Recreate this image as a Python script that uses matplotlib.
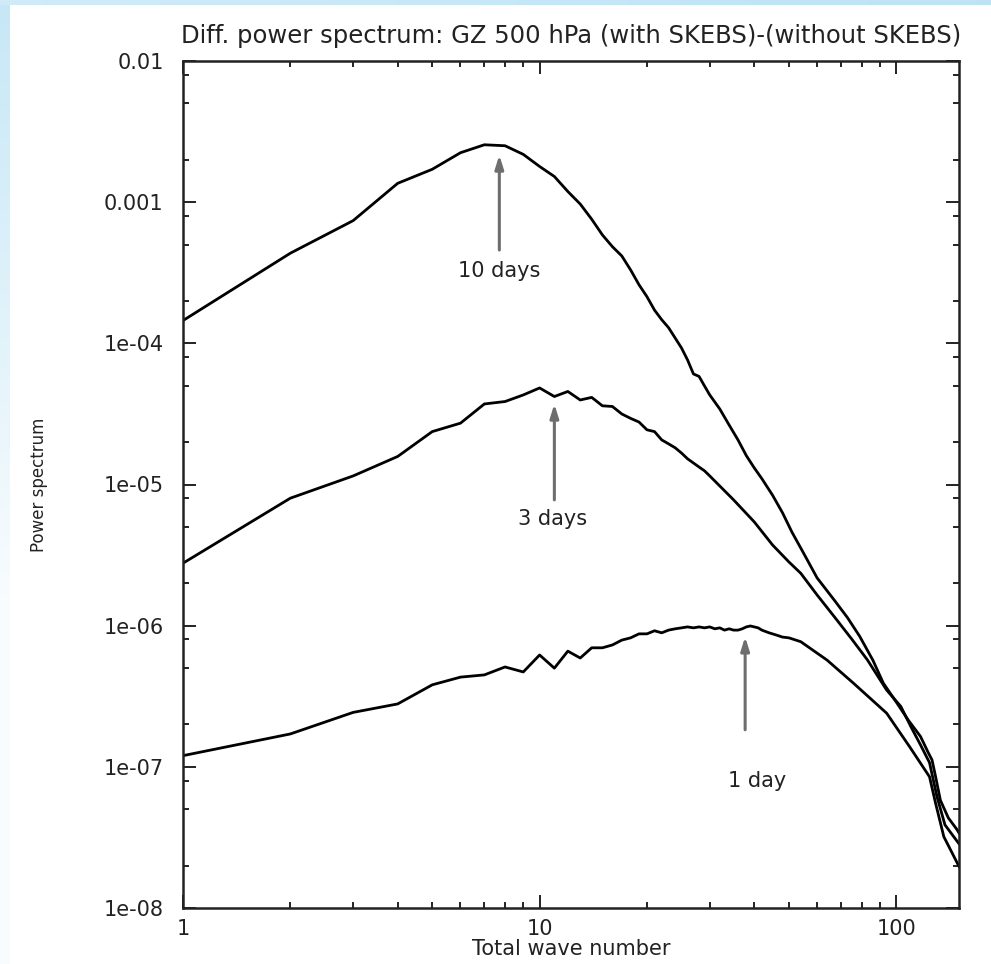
import numpy as np
import matplotlib
matplotlib.use("Agg")
import matplotlib.pyplot as plt
from matplotlib.ticker import FixedLocator, NullFormatter

plt.rcParams['font.family'] = ['DejaVu Sans']

# ---------------- data ----------------
k_10d = [1, 2, 3, 4, 5, 6, 7, 8, 9, 10, 11, 12, 13, 14, 15, 16, 17, 18, 19, 20,
         21, 22, 23, 24, 25, 26, 27, 28, 29, 30, 32, 34, 36, 38, 40, 42, 45, 48,
         51, 55, 60, 67, 73, 79, 86, 92, 100, 108, 117, 123, 126, 129, 133, 140,
         148, 150]
p_10d = [1.45e-4, 4.35e-4, 7.4e-4, 1.36e-3, 1.71e-3, 2.24e-3, 2.55e-3, 2.51e-3,
         2.18e-3, 1.79e-3, 1.52e-3, 1.19e-3, 9.7e-4, 7.57e-4, 5.86e-4, 4.84e-4,
         4.16e-4, 3.31e-4, 2.6e-4, 2.14e-4, 1.72e-4, 1.47e-4, 1.29e-4, 1.09e-4,
         9.27e-5, 7.62e-5, 6.07e-5, 5.83e-5, 4.99e-5, 4.31e-5, 3.43e-5, 2.64e-5,
         2.07e-5, 1.6e-5, 1.31e-5, 1.1e-5, 8.4e-6, 6.3e-6, 4.6e-6, 3.26e-6,
         2.18e-6, 1.52e-6, 1.14e-6, 8.4e-7, 5.7e-7, 3.92e-7, 2.88e-7, 2.15e-7,
         1.64e-7, 1.26e-7, 1.12e-7, 8.5e-8, 5.8e-8, 4.35e-8, 3.6e-8, 3.4e-8]

k_3d = [1, 2, 3, 4, 5, 6, 7, 8, 9, 10, 11, 12, 13, 14, 15, 16, 17, 18, 19, 20,
        21, 22, 23, 24, 25, 26, 27, 28, 29, 30, 35, 40, 45, 50, 54, 60, 67, 75,
        83, 94, 103, 110, 117, 124, 130, 137, 150]
p_3d = [2.77e-6, 8.0e-6, 1.15e-5, 1.58e-5, 2.37e-5, 2.72e-5, 3.72e-5, 3.87e-5,
        4.31e-5, 4.83e-5, 4.2e-5, 4.56e-5, 3.97e-5, 4.14e-5, 3.61e-5, 3.57e-5,
        3.16e-5, 2.94e-5, 2.77e-5, 2.44e-5, 2.37e-5, 2.07e-5, 1.94e-5, 1.82e-5,
        1.67e-5, 1.52e-5, 1.42e-5, 1.33e-5, 1.25e-5, 1.15e-5, 7.78e-6, 5.43e-6,
        3.73e-6, 2.83e-6, 2.35e-6, 1.65e-6, 1.16e-6, 8.05e-7, 5.73e-7, 3.5e-7,
        2.68e-7, 1.92e-7, 1.43e-7, 1.07e-7, 6.2e-8, 3.88e-8, 2.85e-8]

k_1d = [1, 2, 3, 4, 5, 6, 7, 8, 9, 10, 11, 12, 13, 14, 15, 16, 17, 18, 19, 20,
        21, 22, 23, 24, 25, 26, 27, 28, 29, 30, 31, 32, 33, 34, 35, 36, 37, 38,
        39, 40, 41, 42, 44, 46, 48, 50, 54, 64, 76, 94, 109, 124, 129, 136, 150]
p_1d = [1.2e-7, 1.71e-7, 2.43e-7, 2.79e-7, 3.81e-7, 4.32e-7, 4.48e-7, 5.1e-7,
        4.7e-7, 6.2e-7, 5.0e-7, 6.6e-7, 5.9e-7, 6.97e-7, 6.97e-7, 7.3e-7,
        7.9e-7, 8.2e-7, 8.75e-7, 8.75e-7, 9.2e-7, 8.9e-7, 9.3e-7, 9.5e-7,
        9.65e-7, 9.8e-7, 9.65e-7, 9.8e-7, 9.65e-7, 9.8e-7, 9.5e-7, 9.65e-7,
        9.3e-7, 9.5e-7, 9.3e-7, 9.3e-7, 9.5e-7, 9.8e-7, 9.95e-7, 9.8e-7,
        9.65e-7, 9.3e-7, 8.9e-7, 8.6e-7, 8.3e-7, 8.2e-7, 7.7e-7, 5.7e-7,
        3.9e-7, 2.4e-7, 1.39e-7, 8.5e-8, 5.5e-8, 3.2e-8, 1.97e-8]

x_ticks = [1, 10, 100]
x_ticklabels = ["1", "10", "100"]
y_ticks = [1e-8, 1e-7, 1e-6, 1e-5, 1e-4, 1e-3, 1e-2]
y_ticklabels = ["1e-08", "1e-07", "1e-06", "1e-05", "1e-04", "0.001", "0.01"]

labels = ["10 days", "3 days", "1 day"]

# ---------------- figure ----------------
W, H = 991, 964
fig = plt.figure(figsize=(W / 100, H / 100), dpi=100, facecolor='white')

# slide background (light blue gradient at the left and top edges)
bg = fig.add_axes([0, 0, 1, 1], zorder=-10)
img = np.ones((H, W, 3))
yy = np.arange(H)[:, None]
xx = np.arange(W)[None, :]
blue = np.array([0.74, 0.89, 0.96])
left_w = np.clip(1 - yy / 600.0, 0, 1) * 0.75 + 0.1
left_mask = (xx < 10)
top_mask = (yy < 5)
top_w = 0.7 + 0.3 * (xx / W)
for c in range(3):
    ch = img[:, :, c]
    lm = np.broadcast_to(left_mask, (H, W))
    tm = np.broadcast_to(top_mask, (H, W))
    lw_ = np.broadcast_to(left_w, (H, W))
    tw_ = np.broadcast_to(top_w, (H, W))
    ch[lm] = 1 - (1 - blue[c]) * lw_[lm]
    ch[tm] = 1 - (1 - blue[c]) * tw_[tm]
bg.imshow(img, aspect='auto', extent=[0, 1, 0, 1], interpolation='bilinear')
bg.set_axis_off()

ax = fig.add_axes([183 / W, 1 - 908 / H, (959 - 183) / W, (908 - 61) / H])
ax.set_xscale('log')
ax.set_yscale('log')
ax.set_xlim(1, 150)
ax.set_ylim(1e-8, 1e-2)

for kk, pp in [(k_10d, p_10d), (k_3d, p_3d), (k_1d, p_1d)]:
    ax.plot(kk, pp, color='black', lw=2.0, solid_joinstyle='round')

# ticks
ax.xaxis.set_major_locator(FixedLocator(x_ticks))
ax.set_xticklabels(x_ticklabels)
xminor = [m * 10 ** e for e in range(0, 3) for m in range(2, 10) if m * 10 ** e < 150]
ax.xaxis.set_minor_locator(FixedLocator(xminor))
ax.xaxis.set_minor_formatter(NullFormatter())
ax.yaxis.set_major_locator(FixedLocator(y_ticks))
ax.set_yticklabels(y_ticklabels)
yminor = [m * 10.0 ** e for e in range(-8, -2) for m in (2, 5, 8)]
ax.yaxis.set_minor_locator(FixedLocator(yminor))
ax.yaxis.set_minor_formatter(NullFormatter())

ax.tick_params(which='both', direction='in', top=True, right=True,
               color='#222222', width=1.4, labelsize=15, labelcolor='#222222')
ax.tick_params(which='major', length=9.5)
ax.tick_params(which='minor', length=4.5)
ax.tick_params(axis='x', which='major', pad=8)
ax.tick_params(axis='y', which='major', pad=14)
for s in ax.spines.values():
    s.set_linewidth(1.8)
    s.set_color('#222222')

ax.set_title("Diff. power spectrum: GZ 500 hPa (with SKEBS)-(without SKEBS)",
             fontsize=17.5, color='#222222', pad=13)
ax.set_xlabel("Total wave number", fontsize=15, color='#222222', labelpad=0)
ax.set_ylabel("Power spectrum", fontsize=12, color='#222222')
ax.yaxis.set_label_coords(-0.174, 0.5)

# annotations
ann = [
    (labels[0], 7.71, 2.16e-3, 4.58e-4, 3.27e-4),
    (labels[1], 11.0, 3.72e-5, 7.78e-6, 5.68e-6),
    (labels[2], 37.7, 8.34e-7, 1.83e-7, 7.96e-8),
]
text_x = [7.71, 10.9, 40.8]
for (lab, xa, ytip, ytail, ytext), tx in zip(ann, text_x):
    ax.annotate('', xy=(xa, ytip), xytext=(xa, ytail),
                arrowprops=dict(arrowstyle='-|>,head_length=0.8,head_width=0.25',
                                color='#6e6e6e', lw=2.2, shrinkA=0, shrinkB=0))
    ax.text(tx, ytext, lab, ha='center', va='center', fontsize=15, color='#222222')

fig.savefig('out.png', dpi=100, facecolor=fig.get_facecolor())
